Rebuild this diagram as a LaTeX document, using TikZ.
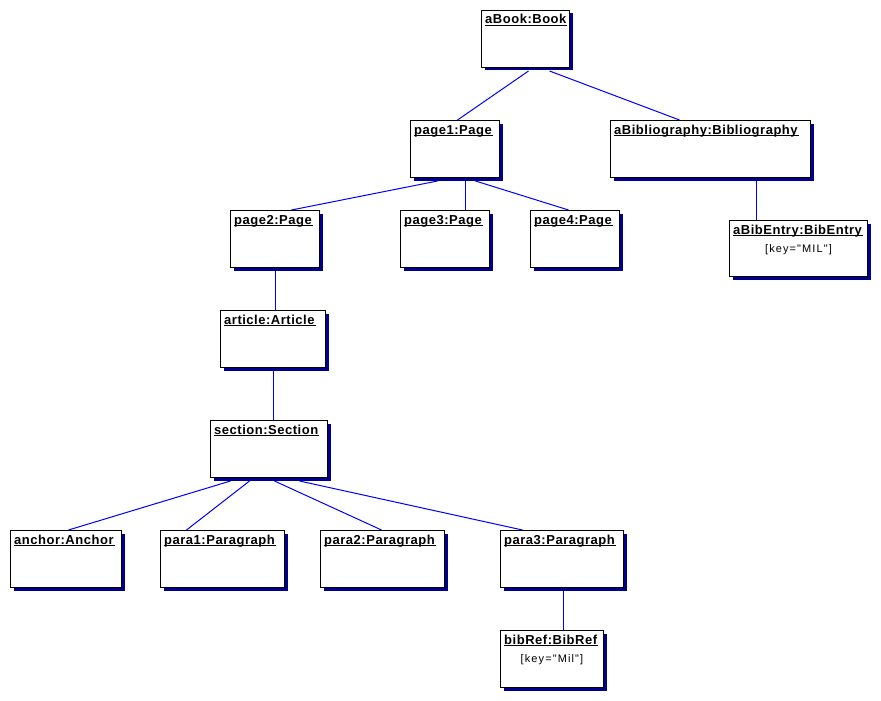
\documentclass[tikz,border=0pt]{standalone}
\usepackage{fontspec}
\setmainfont{Liberation Sans}
\newfontfamily\titlefont[LetterSpace=4]{Liberation Sans}
\newfontfamily\attrfont[LetterSpace=10]{Liberation Sans}
\usepackage{tikz}
\usetikzlibrary{shadows}
\definecolor{shadowblue}{RGB}{0,0,140}
\definecolor{linkblue}{RGB}{0,0,255}
\newcommand\ulname[1]{\setbox0\hbox{#1}\rlap{\rule[-2.2pt]{\dimexpr\wd0+1pt\relax}{1pt}}\box0}
\tikzstyle{object} =
  [ rectangle
  , draw=black
  , line width=1pt
  , fill=white
  , anchor=north west
  , inner sep=0pt
  , drop shadow={shadow xshift=3pt, shadow yshift=-3pt, opacity=1, fill=shadowblue}
  ]
\tikzstyle{objtitle} =
  [ anchor=base west
  , inner sep=0pt
  , xshift=4pt
  , yshift=-14pt
  , font=\titlefont\bfseries\fontsize{13}{15}\selectfont
  ]
\tikzstyle{objattr} =
  [ anchor=base
  , inner sep=0pt
  , yshift=-32pt
  , font=\attrfont\fontsize{11}{13}\selectfont
  ]
\tikzstyle{link} =
  [ draw=linkblue
  , line width=1pt
  ]
\def\KeyMIL{[key="MIL"]}
\def\KeyMil{[key="Mil"]}

\begin{document}
\begin{tikzpicture}[x=1pt,y=-1pt]
    \useasboundingbox (0,0) rectangle (881,701);

    \node[object, minimum width=88pt,  minimum height=57pt, label={[objtitle]north west:{\ulname{aBook:Book}}}] (abook) at (481,10) {};
    \node[object, minimum width=89pt,  minimum height=57pt, label={[objtitle]north west:{\ulname{page1:Page}}}] (page1) at (410,120) {};
    \node[object, minimum width=200pt, minimum height=57pt, label={[objtitle]north west:{\ulname{aBibliography:Bibliography}}}] (abibliography) at (610,120) {};
    \node[object, minimum width=89pt,  minimum height=57pt, label={[objtitle]north west:{\ulname{page2:Page}}}] (page2) at (230,210) {};
    \node[object, minimum width=89pt,  minimum height=57pt, label={[objtitle]north west:{\ulname{page3:Page}}}] (page3) at (400,210) {};
    \node[object, minimum width=89pt,  minimum height=57pt, label={[objtitle]north west:{\ulname{page4:Page}}}] (page4) at (530,210) {};
    \node[object, minimum width=138pt, minimum height=56pt, label={[objtitle]north west:{\ulname{aBibEntry:BibEntry}}}, label={[objattr]north:{\KeyMIL}}] (abibentry) at (729,220) {};
    \node[object, minimum width=105pt, minimum height=57pt, label={[objtitle]north west:{\ulname{article:Article}}}] (article) at (220,310) {};
    \node[object, minimum width=117pt, minimum height=57pt, label={[objtitle]north west:{\ulname{section:Section}}}] (section) at (210,420) {};
    \node[object, minimum width=111pt, minimum height=57pt, label={[objtitle]north west:{\ulname{anchor:Anchor}}}] (anchor) at (10,530) {};
    \node[object, minimum width=124pt, minimum height=57pt, label={[objtitle]north west:{\ulname{para1:Paragraph}}}] (para1) at (160,530) {};
    \node[object, minimum width=124pt, minimum height=57pt, label={[objtitle]north west:{\ulname{para2:Paragraph}}}] (para2) at (320,530) {};
    \node[object, minimum width=123pt, minimum height=57pt, label={[objtitle]north west:{\ulname{para3:Paragraph}}}] (para3) at (500,530) {};
    \node[object, minimum width=103pt, minimum height=57pt, label={[objtitle]north west:{\ulname{bibRef:BibRef}}}, label={[objattr]north:{\KeyMil}}] (bibref) at (500,630) {};

    % links
    \draw[link] ([xshift=3pt,yshift=-3pt]abook.south) -- ([xshift=2.5pt]page1.north);
    \draw[link] ([xshift=24pt,yshift=-3pt]abook.south) -- ([xshift=-31pt]abibliography.north);
    \draw[link] ([xshift=-17.5pt,yshift=-3pt]page1.south) -- ([xshift=16.5pt]page2.north);
    \draw[link] ([xshift=10.5pt,yshift=-3pt]page1.south) -- ([xshift=20.5pt]page3.north);
    \draw[link] ([xshift=20.5pt,yshift=-3pt]page1.south) -- ([xshift=-6.5pt]page4.north);
    \draw[link] ([xshift=46pt,yshift=-3pt]abibliography.south) -- ([xshift=-42pt]abibentry.north);
    \draw[link] ([xshift=0.5pt,yshift=-3pt]page2.south) -- ([xshift=2.5pt]article.north);
    \draw[link] ([xshift=0.5pt,yshift=-3pt]article.south) -- ([xshift=4.5pt]section.north);
    \draw[link] ([xshift=-38.5pt,yshift=-3pt]section.south) -- ([xshift=2.5pt]anchor.north);
    \draw[link] ([xshift=-19.5pt,yshift=-3pt]section.south) -- ([xshift=-36pt]para1.north);
    \draw[link] ([xshift=5.5pt,yshift=-3pt]section.south) -- ([xshift=-1pt]para2.north);
    \draw[link] ([xshift=30.5pt,yshift=-3pt]section.south) -- ([xshift=-39.5pt]para3.north);
    \draw[link] ([xshift=1.5pt,yshift=-3pt]para3.south) -- ([xshift=11.5pt]bibref.north);
\end{tikzpicture}
\end{document}
